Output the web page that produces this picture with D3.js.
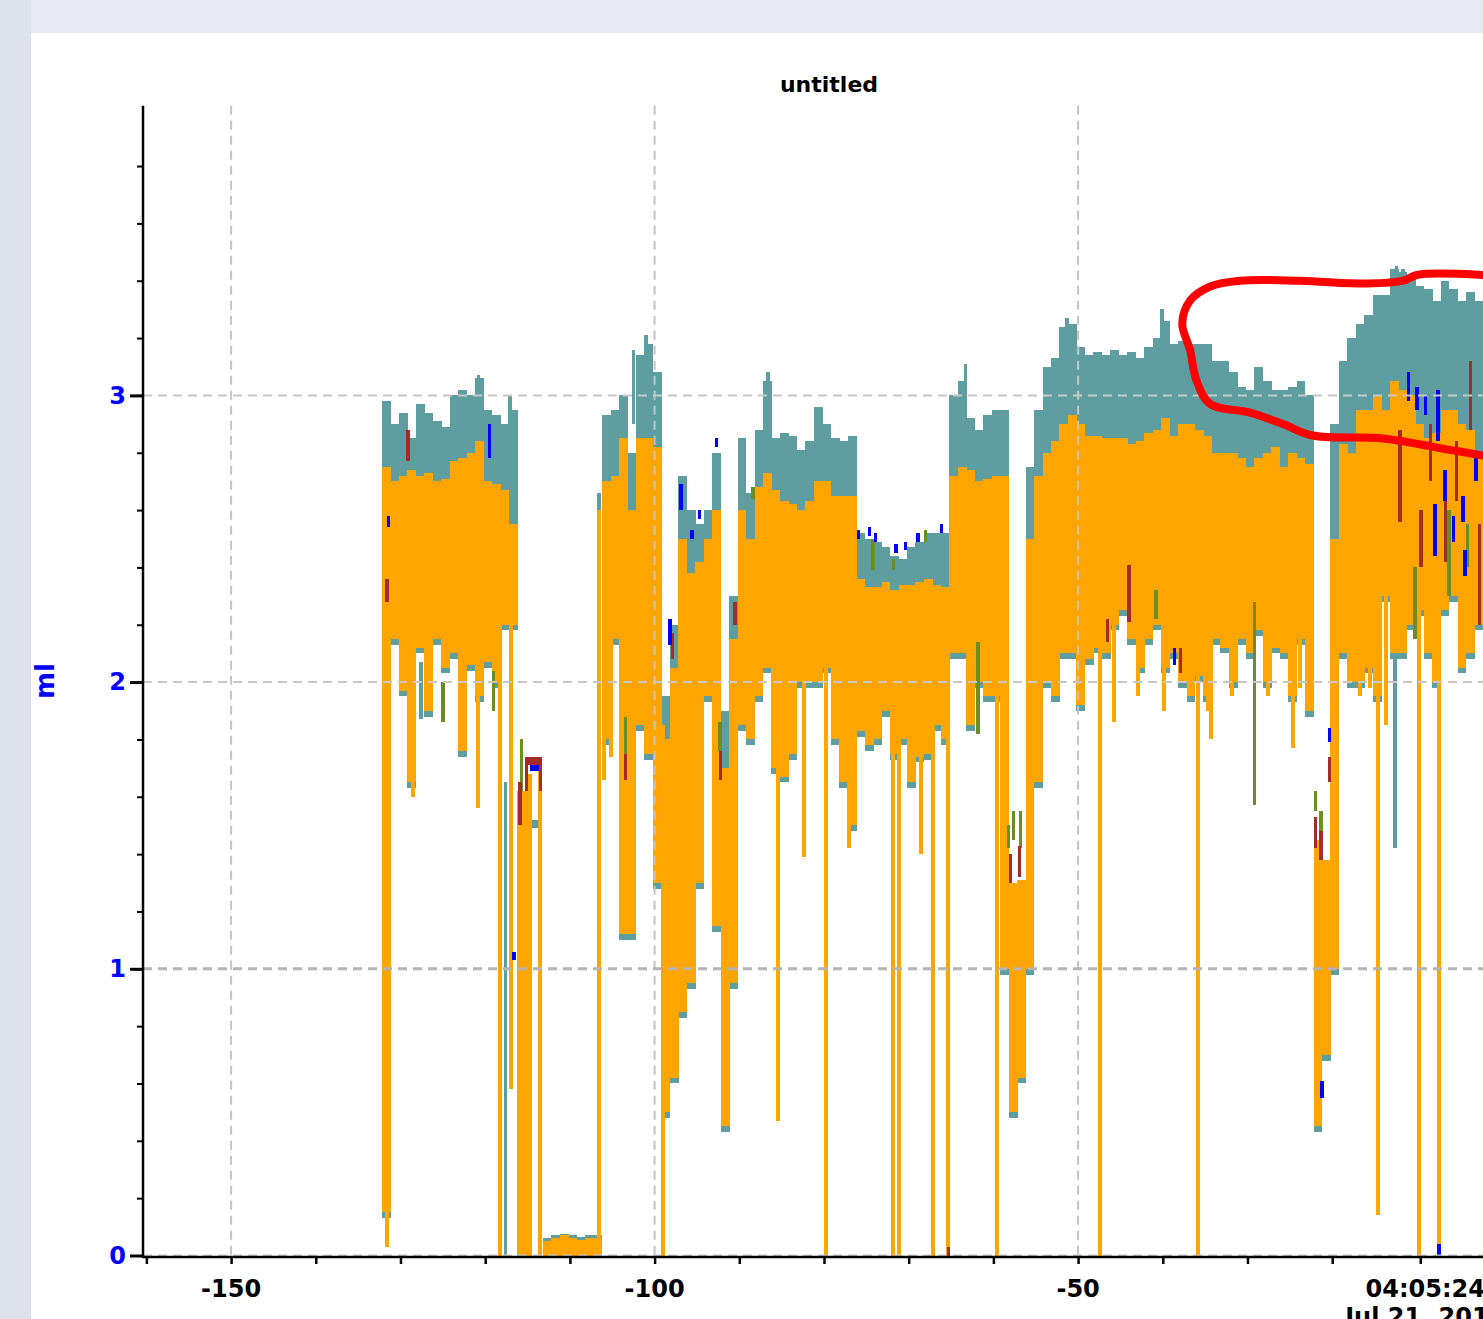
<!DOCTYPE html>
<html>
<head>
<meta charset="utf-8">
<script src="https://cdn.jsdelivr.net/npm/d3@7"></script>
<style>
  html, body { margin: 0; padding: 0; background: #e5e8f1; overflow: hidden; }
  svg { display: block; }
  text { font-family: "DejaVu Sans", sans-serif; font-weight: bold; }
</style>
</head>
<body>
<svg id="chart" width="1483" height="1319"></svg>
<script>
// one bin per second, starting at t = -132.2
const binStart = -132.2;

// top of the teal series per bin (null = no teal above orange)
const tealTop = [
  2.98, 2.90, 2.94, 2.85, 2.97, 2.94, 2.91, 2.89, 3.00, 3.02,
  3.00, 3.06, 2.95, 2.93, 2.90, 2.95, null, null, null, 0.06,
  0.07, 0.075, 0.07, 0.065, 0.07, 0.07, 2.93, 2.95, 3.00, 2.80,
  3.14, 3.18, 3.08, 1.95, 2.20, 2.72, 2.60, 2.55, 2.60, 2.80,
  1.90, 2.30, 2.85, 2.66, 2.88, 3.05, 2.85, 2.87, 2.86, 2.81,
  2.84, 2.96, 2.90, 2.85, 2.84, 2.86, 2.52, 2.50, 2.49, 2.47,
  2.44, 2.43, 2.47, 2.49, 2.52, 2.52, 2.52, 3.00, 3.05, 2.92,
  2.88, 2.93, 2.95, 2.95, null, null, 2.75, 2.95, 3.10, 3.13,
  3.24, 3.25, 3.17, 3.14, 3.15, 3.14, 3.16, 3.14, 3.15, 3.13,
  3.17, 3.20, 3.26, 3.18, 3.19, 3.18, 3.18, 3.18, 3.12, 3.12,
  3.08, 3.03, 3.02, 3.10, 3.05, 3.02, 3.02, 3.03, 3.05, 3.00,
  null, null, 2.90, 3.12, 3.20, 3.25, 3.28, 3.35, 3.35, 3.44,
  3.43, 3.42, 3.38, 3.37, 3.33, 3.40, 3.37, 3.33, 3.36, 3.33
];

// orange series: upper and lower edge of each bin
const orangeTop = [
  2.75, 2.70, 2.72, 2.74, 2.72, 2.73, 2.70, 2.71, 2.77, 2.78,
  2.80, 2.84, 2.70, 2.69, 2.67, 2.55, 1.62, null, null, 0.05,
  0.06, 0.07, 0.06, 0.055, 0.06, 0.06, 2.70, 2.72, 2.85, 2.60,
  2.85, 2.85, 2.82, 1.80, 2.05, 2.50, 2.38, 2.42, 2.50, 2.60,
  1.70, 2.15, 2.60, 2.50, 2.68, 2.73, 2.67, 2.63, 2.62, 2.60,
  2.63, 2.70, 2.70, 2.65, 2.65, 2.65, 2.36, 2.33, 2.33, 2.35,
  2.32, 2.34, 2.34, 2.35, 2.36, 2.34, 2.33, 2.72, 2.75, 2.74,
  2.70, 2.71, 2.72, 2.72, 1.30, 1.31, 2.50, 2.72, 2.80, 2.84,
  2.90, 2.93, 2.90, 2.86, 2.86, 2.85, 2.85, 2.85, 2.83, 2.84,
  2.87, 2.88, 2.92, 2.86, 2.90, 2.90, 2.88, 2.86, 2.80, 2.80,
  2.80, 2.78, 2.75, 2.78, 2.80, 2.82, 2.75, 2.80, 2.78, 2.76,
  1.45, 1.38, 2.50, 2.83, 2.80, 2.95, 2.95, 3.00, 2.95, 3.05,
  3.02, 3.00, 2.90, 2.85, 2.87, 2.95, 2.95, 2.90, 2.88, 2.80
];

const orangeLow = [
  0.15, 2.15, 1.97, 1.65, 2.12, 1.90, 2.15, 2.05, 2.10, 1.76,
  2.06, 1.95, 2.07, 2.00, 2.20, 2.20, 0, null, null, 0,
  0, 0, 0, 0, 0, 0, 1.80, 2.15, 1.12, 1.12,
  1.85, 1.75, 1.30, 0.50, 0.62, 0.85, 0.95, 1.30, 1.95, 1.15,
  0.45, 0.95, 1.85, 1.80, 1.95, 2.05, 1.70, 1.67, 1.75, 2.00,
  2.00, 2.00, 2.05, 1.80, 1.65, 1.50, 1.83, 1.78, 1.80, 1.90,
  1.75, 1.80, 1.65, 1.74, 1.75, 1.85, 1.80, 2.10, 2.10, 1.85,
  2.00, 1.95, 1.95, 1.00, 0.50, 0.62, 1.00, 1.65, 2.00, 1.95,
  2.10, 2.10, 1.92, 2.08, 2.12, 2.10, 2.20, 2.25, 2.15, 2.05,
  2.15, 2.20, 2.05, 2.10, 2.00, 1.95, 2.02, 1.95, 2.15, 2.12,
  2.00, 2.15, 2.10, 2.18, 2.00, 2.12, 2.10, 1.95, 2.15, 1.90,
  0.45, 0.70, 1.00, 2.10, 2.00, 2.00, 2.05, 1.95, 2.30, 2.10,
  2.10, 2.20, 2.25, 2.10, 2.00, 2.25, 2.30, 2.05, 2.10, 2.20
];

// single narrow samples: [t, low, high]
const orangeSpikes = [
  [-131.6, 0.03, 2.7], [-128.5, 1.6, 2.6], [-120.9, 1.56, 2.6], [-118.2, 0, 2.6],
  [-117.0, 0.58, 2.5], [-115.05, 0, 1.66], [-114.7, 0, 1.68], [-113.5, 0, 1.69],
  [-106.6, 0.03, 2.6], [-106.0, 1.66, 2.6], [-105.2, 1.74, 2.6], [-99.0, 0, 1.85],
  [-86.0, 1.7, 2.6], [-85.4, 0.47, 2.6], [-82.4, 1.39, 2.5], [-79.8, 0, 2.6],
  [-77.0, 1.42, 2.6], [-71.9, 0, 2.25], [-71.2, 0, 2.25], [-68.6, 1.4, 2.25],
  [-67.1, 0, 2.3], [-65.3, 0, 2.25], [-59.6, 0, 2.6], [-47.4, 0, 2.7],
  [-45.8, 1.86, 2.7], [-42.9, 1.95, 2.7], [-39.9, 1.9, 2.7], [-35.9, 0, 2.7],
  [-34.7, 1.9, 2.6], [-34.3, 1.8, 2.6], [-31.8, 1.95, 2.6], [-27.6, 1.95, 2.6],
  [-24.6, 1.77, 2.6], [-23.8, 1.98, 2.6], [-16.7, 1.95, 2.7], [-15.5, 1.98, 2.7],
  [-13.7, 1.85, 2.7], [-14.6, 0.14, 2.7], [-9.7, 0, 2.6], [-7.4, 0, 2.6]
];

const tealSpikes = [
  [-127.6, 1.87, 2.07], [-117.6, 0, 1.65], [-114.3, 1.49, 1.52], [-113.9, 1.49, 1.52],
  [-106.6, 2.55, 2.66], [-12.6, 1.42, 2.5],
  [-120.8, 2.8, 3.07], [-117.1, 2.7, 3.0], [-102.5, 2.9, 3.16], [-101.0, 3.0, 3.21],
  [-86.6, 2.8, 3.08], [-63.3, 2.9, 3.11], [-51.3, 3.0, 3.27], [-40.1, 3.0, 3.3],
  [-12.4, 3.2, 3.45], [-11.6, 3.2, 3.44]
];

const blueSpikes = [
  [-131.4, 2.54, 2.58], [-119.5, 2.78, 2.9], [-116.6, 1.03, 1.06],
  [-114.5, 1.69, 1.71], [-114.1, 1.69, 1.71], [-113.8, 1.69, 1.71],
  [-98.2, 2.13, 2.22], [-96.9, 2.6, 2.69], [-95.6, 2.5, 2.53], [-94.7, 2.57, 2.6],
  [-92.7, 2.82, 2.85], [-75.9, 2.5, 2.53], [-74.6, 2.51, 2.54], [-73.9, 2.49, 2.52],
  [-71.5, 2.45, 2.48], [-70.4, 2.46, 2.49], [-68.9, 2.49, 2.52], [-66.1, 2.52, 2.55],
  [-38.6, 2.06, 2.12], [-21.2, 0.55, 0.61], [-20.3, 1.79, 1.84],
  [-11.0, 2.98, 3.08], [-10.0, 2.95, 3.03], [-9.0, 2.93, 3.0], [-7.5, 2.84, 3.02],
  [-7.85, 2.44, 2.62], [-6.7, 2.63, 2.74], [-5.7, 2.49, 2.58], [-4.55, 2.56, 2.65],
  [-4.3, 2.37, 2.46], [-3.0, 2.7, 2.8], [-7.4, 0, 0.04]
];

const brownSpikes = [
  [-131.6, 2.28, 2.36], [-129.1, 2.77, 2.88], [-115.9, 1.5, 1.65],
  [-115.1, 1.62, 1.74], [-114.7, 1.71, 1.74], [-114.3, 1.71, 1.74], [-113.9, 1.71, 1.74],
  [-113.5, 1.62, 1.74], [-103.4, 1.66, 1.75], [-97.9, 2.08, 2.17], [-92.2, 1.66, 1.76],
  [-90.5, 2.2, 2.28], [-65.3, 0, 0.03], [-58.0, 1.3, 1.4], [-56.9, 1.32, 1.43],
  [-46.5, 2.14, 2.22], [-44.0, 2.21, 2.41], [-37.9, 2.03, 2.12], [-22.0, 1.42, 1.53],
  [-21.3, 1.38, 1.48], [-20.3, 1.65, 1.74], [-12.0, 2.56, 2.88], [-9.5, 2.4, 2.6],
  [-8.4, 2.7, 2.9], [-6.6, 2.42, 2.7], [-5.3, 2.63, 2.84], [-3.7, 2.88, 3.12],
  [-2.6, 2.2, 2.55]
];

const oliveSpikes = [
  [-125.0, 1.86, 2.0], [-119.0, 1.9, 2.04], [-115.7, 1.62, 1.8], [-103.4, 1.75, 1.88],
  [-92.3, 1.76, 1.86], [-88.4, 2.64, 2.68], [-74.2, 2.39, 2.5], [-71.8, 2.39, 2.43],
  [-68.0, 2.49, 2.53], [-61.8, 1.82, 2.14], [-58.2, 1.42, 1.5], [-57.6, 1.45, 1.55],
  [-56.8, 1.42, 1.55], [-40.8, 2.22, 2.32], [-29.2, 1.57, 2.28], [-22.0, 1.55, 1.62],
  [-21.3, 1.4, 1.55], [-10.2, 2.15, 2.4], [-6.2, 2.3, 2.6], [-4.0, 2.4, 2.55]
];

// axis ticks
const yMajor = [0, 1, 2, 3];
const yMinor = d3.range(0.2, 3.81, 0.2);
const xMinor = d3.range(-160, -19, 10);
const xMajor = [
  {t: -150, label: "-150"},
  {t: -100, label: "-100"},
  {t: -50, label: "-50"},
  {t: -9.6, label: "04:05:24", sub: "Jul 21, 2017"}
];

// hand drawn red loop, in data units [t, ml]
const annotation = [
  [-2.2, 3.42], [-10.0, 3.42], [-11.6, 3.40], [-15.9, 3.39], [-23.8, 3.40],
  [-30.9, 3.40], [-34.4, 3.38], [-36.8, 3.33], [-37.7, 3.25], [-36.8, 3.16],
  [-36.0, 3.05], [-34.4, 2.97], [-29.7, 2.94], [-25.8, 2.90], [-22.3, 2.86],
  [-14.0, 2.85], [-6.1, 2.81], [-2.2, 2.79]
];

const colors = {teal: "#5f9ea0", orange: "#ffa500", blue: "#0000ff", brown: "#a52a2a", olive: "#6b8e23"};

const svg = d3.select("#chart");

// page frame
svg.append("rect").attr("width", 1483).attr("height", 1319).attr("fill", "#e6e9f2");
svg.append("rect").attr("width", 31).attr("height", 1319).attr("fill", "#dde2eb");
svg.append("rect").attr("x", 31).attr("y", 33).attr("width", 1452).attr("height", 1286).attr("fill", "#fff");

const x = d3.scaleLinear().domain([-160.4, 0]).range([143, 143 + 160.4 * 8.47]);
const y = d3.scaleLinear().domain([0, 4]).range([1255.5, 108.7]);

const bins = tealTop.map((d, i) => ({
  t: binStart + i,
  tealHi: d,
  hi: orangeTop[i],
  lo: orangeLow[i]
})).filter(d => d.hi !== null);

const plot = svg.append("g").attr("shape-rendering", "crispEdges");

const binW = d => x(d.t + 1) - x(d.t) + 0.4;

// teal goes first, slightly below orange so its edge peeks out at the bottom
plot.append("g").selectAll("rect")
  .data(bins)
  .join("rect")
  .attr("x", d => x(d.t))
  .attr("width", binW)
  .attr("y", d => y(d.tealHi ?? d.hi))
  .attr("height", d => y(Math.max(0, d.lo - 0.02)) - y(d.tealHi ?? d.hi))
  .attr("fill", colors.teal);

function spikes(data, color, w) {
  plot.append("g").selectAll("rect")
    .data(data)
    .join("rect")
    .attr("x", d => x(d[0]) - w / 2)
    .attr("width", w)
    .attr("y", d => y(d[2]))
    .attr("height", d => Math.max(2, y(d[1]) - y(d[2])))
    .attr("fill", color);
}

spikes(tealSpikes, colors.teal, 3.8);

plot.append("g").selectAll("rect")
  .data(bins)
  .join("rect")
  .attr("x", d => x(d.t))
  .attr("width", binW)
  .attr("y", d => y(d.hi))
  .attr("height", d => Math.max(2, y(d.lo) - y(d.hi)))
  .attr("fill", colors.orange);

spikes(orangeSpikes, colors.orange, 4);
spikes(oliveSpikes, colors.olive, 3.4);
spikes(brownSpikes, colors.brown, 3.4);
spikes(blueSpikes, colors.blue, 3.4);

// grid on top of the data, as in the original
const grid = svg.append("g").attr("fill", "none").attr("stroke-dasharray", "9,6");
grid.selectAll("line.v")
  .data([-150, -100, -50])
  .join("line")
  .attr("class", "v")
  .attr("x1", d => x(d)).attr("x2", d => x(d))
  .attr("y1", y(4.01)).attr("y2", y(0))
  .attr("stroke", "#c4c4c4")
  .attr("stroke-width", 2);
grid.selectAll("line.h")
  .data(yMajor)
  .join("line")
  .attr("class", "h")
  .attr("x1", x(-160.4)).attr("x2", 1483)
  .attr("y1", d => y(d)).attr("y2", d => y(d))
  .attr("stroke", d => d === 1 ? "#b4b4b4" : "#c8c8c8")
  .attr("stroke-width", d => d === 1 ? 3 : 2);

// y axis
const yAxis = svg.append("g").attr("transform", `translate(${x(-160.4)},0)`);
yAxis.append("g")
  .call(d3.axisLeft(y).tickValues(yMinor).tickSize(6).tickFormat(""))
  .call(g => g.select(".domain").remove())
  .call(g => g.selectAll("line").attr("stroke", "#000").attr("stroke-width", 2));
yAxis.append("g")
  .call(d3.axisLeft(y).tickValues(yMajor).tickSize(13).tickPadding(4).tickFormat(d3.format("d")))
  .call(g => g.select(".domain").remove())
  .call(g => g.selectAll("line").attr("stroke", "#000").attr("stroke-width", 3))
  .call(g => g.selectAll("text")
    .attr("fill", colors.blue)
    .attr("font-size", 24)
    .attr("font-family", "DejaVu Sans")
    .attr("font-weight", "bold"));
yAxis.append("line")
  .attr("y1", y(4.01)).attr("y2", y(0) + 2)
  .attr("stroke", "#000").attr("stroke-width", 2.5);

// x axis
const xAxis = svg.append("g").attr("transform", `translate(0,${y(0) + 1.5})`);
xAxis.append("g")
  .call(d3.axisBottom(x).tickValues(xMinor.concat([-9.6])).tickSize(7).tickFormat(""))
  .call(g => g.select(".domain").remove())
  .call(g => g.selectAll("line").attr("stroke", "#000").attr("stroke-width", 2.5));
xAxis.append("line")
  .attr("x1", x(-160.4) - 1).attr("x2", 1483)
  .attr("stroke", "#000").attr("stroke-width", 2.5);

const xLabels = xAxis.selectAll("g.lab")
  .data(xMajor)
  .join("g")
  .attr("class", "lab")
  .attr("transform", d => `translate(${x(d.t) + (d.sub ? 5 : 0)},0)`);
xLabels.append("text")
  .attr("y", 40)
  .attr("text-anchor", "middle")
  .attr("font-size", 24)
  .attr("fill", "#000")
  .text(d => d.label);
xLabels.filter(d => d.sub).append("text")
  .attr("y", 68)
  .attr("text-anchor", "middle")
  .attr("font-size", 24)
  .attr("fill", "#000")
  .text(d => d.sub);

// titles
svg.append("text")
  .attr("x", 829).attr("y", 92)
  .attr("text-anchor", "middle")
  .attr("font-size", 22)
  .attr("fill", "#000")
  .text("untitled");

svg.append("text")
  .attr("transform", "translate(54,681) rotate(-90)")
  .attr("text-anchor", "middle")
  .attr("font-size", 26)
  .attr("fill", colors.blue)
  .text("ml");

// red marker loop
svg.append("path")
  .datum(annotation)
  .attr("fill", "none")
  .attr("stroke", "#ff0000")
  .attr("stroke-width", 8)
  .attr("stroke-linecap", "round")
  .attr("stroke-linejoin", "round")
  .attr("d", d3.line().x(d => x(d[0])).y(d => y(d[1])).curve(d3.curveCatmullRom));
</script>
</body>
</html>
